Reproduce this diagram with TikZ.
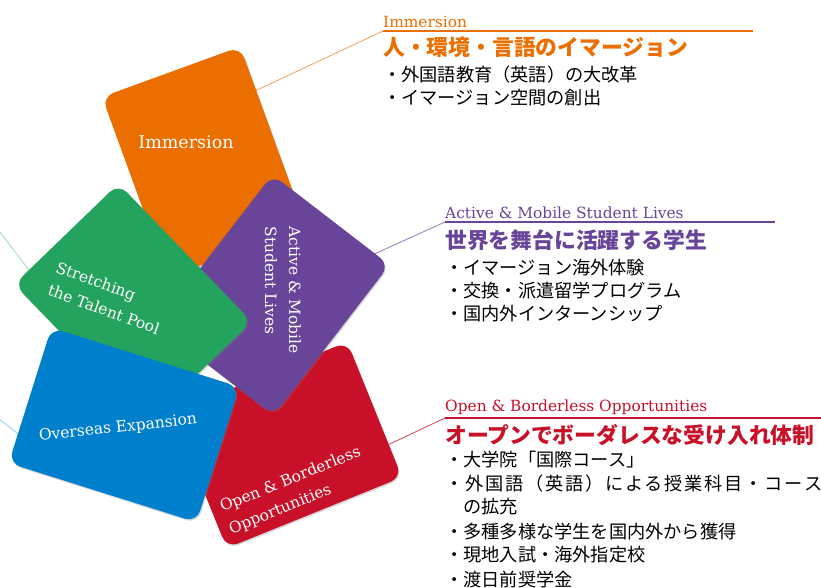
\documentclass[tikz,border=0pt]{standalone}
\usepackage{fontspec}
\setmainfont{DejaVu Serif}
\newfontfamily\jp{Noto Sans CJK JP}
\usepackage{tikz}
\usetikzlibrary{shadows}
\definecolor{immorange}{HTML}{EB6E00}
\definecolor{actpurple}{HTML}{684598}
\definecolor{openred}{HTML}{C81028}
\definecolor{talgreen}{HTML}{24A35E}
\definecolor{ovsblue}{HTML}{0080CC}
\tikzstyle{card}=[rectangle,rounded corners=12pt,inner sep=0pt,drop shadow={opacity=0.3,shadow xshift=1pt,shadow yshift=-1.5pt}]
\tikzstyle{cardtext}=[text=white,align=left,inner sep=0pt,font=\fontsize{15.5}{24}\selectfont]
\tikzstyle{tag}=[anchor=south west,inner xsep=0pt,inner ysep=3pt,font=\fontsize{15.4}{15.4}\selectfont]
\tikzstyle{leader}=[line width=0.8pt]
\tikzstyle{underline}=[line width=2pt]
\tikzstyle{headline}=[anchor=west,inner sep=0pt,font=\jp\bfseries\fontsize{21.8}{21.8}\selectfont]
\tikzstyle{item}=[anchor=west,inner sep=0pt,font=\jp\fontsize{18.2}{18.2}\selectfont]

\begin{document}
\begin{tikzpicture}[x=1pt,y=-1pt]
    \useasboundingbox (0,0) rectangle (821,587);

    % leader roots sit inside the cards, the cards are drawn over them
    \coordinate (imm-root) at (240,98);
    \coordinate (act-root) at (350,265);
    \coordinate (open-root) at (360,458);
    \coordinate (tal-root) at (45,291);
    \coordinate (tal-end) at (-10,219);
    \coordinate (ovs-root) at (40,451);
    \coordinate (ovs-end) at (-10,412);

    \node[tag,text=immorange] (imm-tag) at (383,31) {Immersion};
    \node[tag,text=actpurple] (act-tag) at (445,222) {Active \& Mobile Student Lives};
    \node[tag,text=openred] (open-tag) at (445,418) {Open \& Borderless Opportunities};

    \draw[leader,immorange!65] (imm-root) -- (imm-tag.south west);
    \draw[underline,immorange] (imm-tag.south west) -- ++(370,0);
    \draw[leader,actpurple!70] (act-root) -- (act-tag.south west);
    \draw[underline,actpurple] (act-tag.south west) -- ++(330,0);
    \draw[leader,openred!80] (open-root) -- (open-tag.south west);
    \draw[underline,openred] (open-tag.south west) -- ++(390,0);
    \draw[leader,talgreen!45] (tal-root) -- (tal-end);
    \draw[leader,ovsblue!40] (ovs-root) -- (ovs-end);

    % the five cards, back to front
    \node[card,fill=immorange,minimum width=147,minimum height=192,rotate=20] (immersion) at (204,162) {};
    \node[card,fill=openred,minimum width=189,minimum height=146,rotate=22] (open) at (287,445) {};
    \node[card,fill=actpurple,minimum width=148,minimum height=190,rotate=-37.6] (active) at (273,295) {};
    \node[card,fill=talgreen,minimum width=145,minimum height=192,rotate=44] (talent) at (133,303) {};
    \node[card,fill=ovsblue,minimum width=197,minimum height=142,rotate=-17.5] (overseas) at (124,425) {};

    \node[cardtext,font=\fontsize{17.5}{24}\selectfont] (immersion-text) at (186,142) {Immersion};
    \node[cardtext,rotate=-90] (active-text) at (283,290) {Active \& Mobile\\Student Lives};
    \node[cardtext,rotate=-20] (talent-text) at (108,298) {Stretching\\the Talent Pool};
    \node[cardtext,rotate=6] (overseas-text) at (118,428) {Overseas Expansion};
    \node[cardtext,rotate=22] (open-text) at (295,491) {Open \& Borderless\\Opportunities};

    % texts beside the cards
    \node[headline,text=immorange] (imm-head) at (383,47) {人・環境・言語のイマージョン};
    \node[item] (imm-1) at (383,75) {・外国語教育（英語）の大改革};
    \node[item] (imm-2) at (383,98) {・イマージョン空間の創出};

    \node[headline,text=actpurple] (act-head) at (445,240) {世界を舞台に活躍する学生};
    \node[item] (act-1) at (445,268) {・イマージョン海外体験};
    \node[item] (act-2) at (445,291) {・交換・派遣留学プログラム};
    \node[item] (act-3) at (445,314) {・国内外インターンシップ};

    \node[headline,text=openred] (open-head) at (445,435) {オープンでボーダレスな受け入れ体制};
    \node[item] (open-1) at (445,460) {・大学院「国際コース」};
    \node[item] (open-2) at (445,484) {\addfontfeature{LetterSpace=10}・外国語（英語）による授業科目・コース};
    \node[item] (open-2b) at (463,507) {の拡充};
    \node[item] (open-3) at (445,532) {・多種多様な学生を国内外から獲得};
    \node[item] (open-4) at (445,555) {・現地入試・海外指定校};
    \node[item] (open-5) at (445,580) {・渡日前奨学金};
\end{tikzpicture}
\end{document}
